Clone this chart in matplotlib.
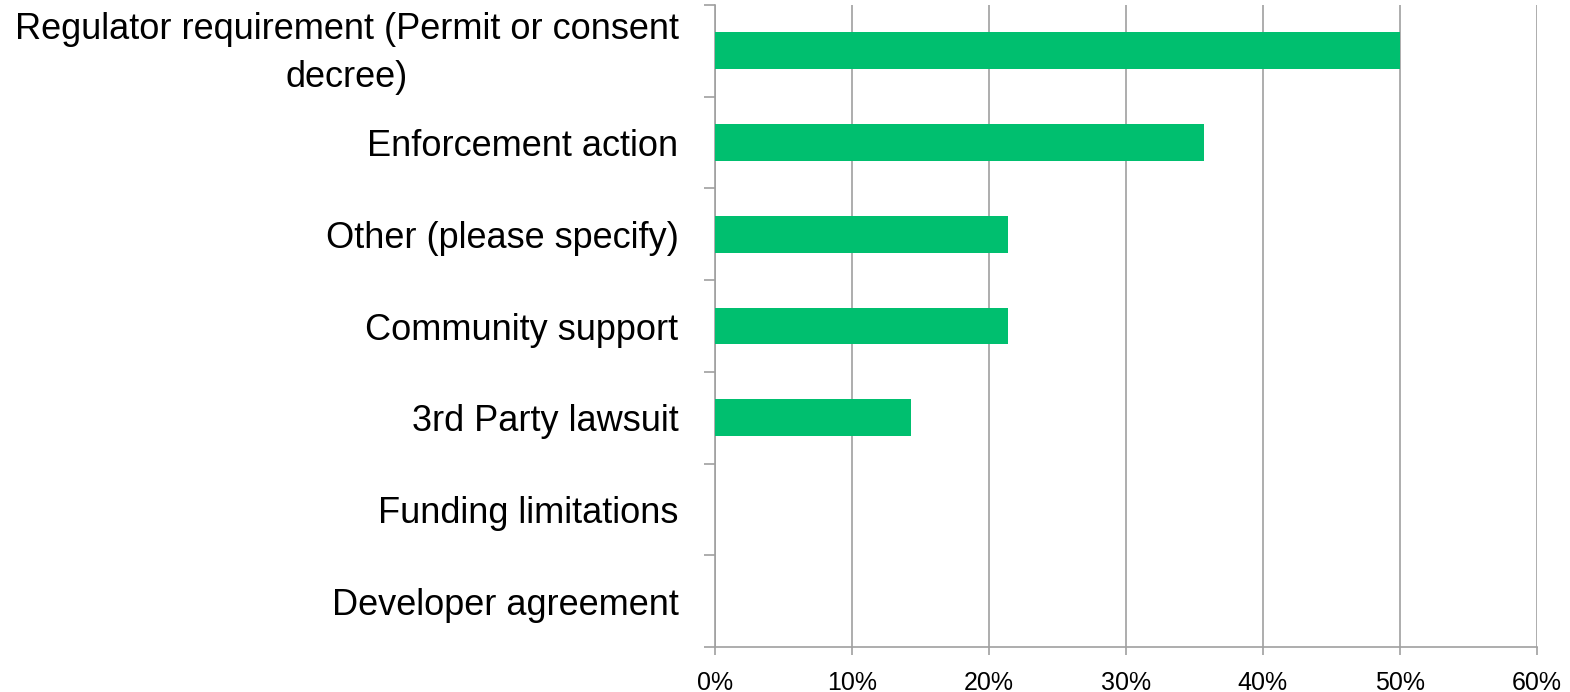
import matplotlib.pyplot as plt
import matplotlib.transforms as mtransforms
from matplotlib.ticker import FixedLocator, PercentFormatter
import numpy as np

plt.rcParams['font.family'] = ['Liberation Sans', 'DejaVu Sans']

categories = [
    'Regulator requirement (Permit or consent\ndecree)',
    'Enforcement action',
    'Other (please specify)',
    'Community support',
    '3rd Party lawsuit',
    'Funding limitations',
    'Developer agreement',
]
shares = [50.0, 35.71, 21.43, 21.43, 14.29, 0.0, 0.0]
x_ticks = [0, 10, 20, 30, 40, 50, 60]

green = '#00BF6F'
grid_gray = '#A0A0A0'

fig = plt.figure(figsize=(15.7, 6.92), dpi=100)
ax = fig.add_axes([0.4552, 0.065, 0.979 - 0.4552, 0.9928 - 0.065])

n = len(categories)
y = np.arange(n)
ax.barh(y, shares, height=0.40, color=green, zorder=3)

ax.set_ylim(n - 0.5, -0.5)
ax.set_xlim(0, 60)

# category labels sit between the boundary ticks
ax.set_yticks(y)
ax.set_yticklabels(categories, fontsize=26, linespacing=1.5)
for lbl in ax.get_yticklabels():
    lbl.set_multialignment('center')
ax.tick_params(axis='y', which='major', length=0, pad=26)
ax.yaxis.set_minor_locator(FixedLocator(np.arange(-0.5, n, 1.0)))
ax.tick_params(axis='y', which='minor', length=8, width=1.2, color=grid_gray)

# two-line label: nudge up so both lines straddle the bar
first = ax.yaxis.get_major_ticks()[0].label1
first.set_transform(first.get_transform() +
                    mtransforms.ScaledTranslation(0, 8 / 100, fig.dpi_scale_trans))

ax.set_xticks(x_ticks)
ax.xaxis.set_major_formatter(PercentFormatter(decimals=0))
ax.tick_params(axis='x', which='major', length=6, width=1.2, color=grid_gray,
               labelsize=18, pad=11)

ax.grid(axis='x', color=grid_gray, linewidth=1.2, zorder=0)
for side in ['top', 'right']:
    ax.spines[side].set_visible(False)
for side in ['left', 'bottom']:
    ax.spines[side].set_color(grid_gray)
    ax.spines[side].set_linewidth(1.2)
ax.set_axisbelow(True)

fig.savefig('out.png', dpi=100, facecolor='white')
